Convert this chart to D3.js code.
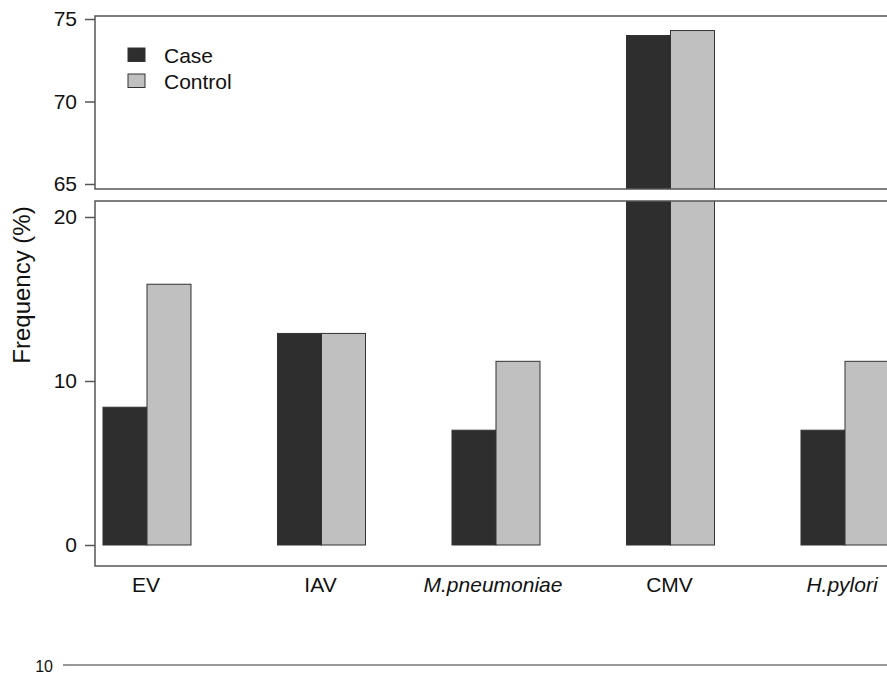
<!DOCTYPE html>
<html>
<head>
<meta charset="utf-8">
<script src="https://cdn.jsdelivr.net/npm/d3@7"></script>
<style>
  body { margin: 0; background: #fff; }
  svg { display: block; font-family: "Liberation Sans", Arial, sans-serif; }
</style>
</head>
<body>
<svg id="chart"></svg>
<script>
// data
const categories = ['EV', 'IAV', 'M.pneumoniae', 'CMV', 'H.pylori']
const italicCats = ['M.pneumoniae', 'H.pylori']
const series = ['Case', 'Control']
const caseValues = [8.4, 12.9, 7.0, 74.0, 7.0]
const controlValues = [15.9, 12.9, 11.2, 74.3, 11.2]
const topTicks = [65, 70, 75]
const bottomTicks = [0, 10, 20]

const width = 887, height = 674
const svg = d3.select('#chart').attr('width', width).attr('height', height)
const lineColor = '#555'
const colors = { Case: '#2e2e2e', Control: '#c0c0c0' }
const fontFam = '"Liberation Sans", Arial, sans-serif'

const left = 95
const topPanel = { y0: 16, y1: 189 }
const botPanel = { y0: 201, y1: 566 }

const yTop = d3.scaleLinear().domain([65, 75]).range([184, 19])
const yBot = d3.scaleLinear().domain([0, 20]).range([545, 217])

const step = 174.5
const pin = 0.4957, pout = 0.0458
const x = d3.scaleBand().domain(categories)
  .range([left, left + step * (categories.length - pin + 2 * pout)])
  .paddingInner(pin).paddingOuter(pout)
const xs = d3.scaleBand().domain(series).range([0, x.bandwidth()])

const rows = categories.map((c, i) => ({ cat: c, Case: caseValues[i], Control: controlValues[i] }))

// clip paths
const defs = svg.append('defs')
defs.append('clipPath').attr('id', 'clipTop').append('rect')
  .attr('x', left).attr('y', topPanel.y0).attr('width', width).attr('height', topPanel.y1 - topPanel.y0)
defs.append('clipPath').attr('id', 'clipBot').append('rect')
  .attr('x', left).attr('y', botPanel.y0).attr('width', width).attr('height', botPanel.y1 - botPanel.y0)

function drawBars(clipId, y, base) {
  const g = svg.append('g').attr('clip-path', `url(#${clipId})`)
  const groups = g.selectAll('.grp').data(rows).enter().append('g')
    .attr('class', 'grp')
    .attr('transform', d => `translate(${x(d.cat)},0)`)
  groups.selectAll('rect').data(d => series.map(s => ({ s, v: d[s] }))).enter().append('rect')
    .attr('x', d => xs(d.s))
    .attr('width', xs.bandwidth())
    .attr('y', d => Math.min(y(d.v), base))
    .attr('height', d => Math.max(0, base - y(d.v)))
    .attr('fill', d => colors[d.s])
    .attr('stroke', '#333')
    .attr('stroke-width', 1)
}

drawBars('clipTop', yTop, topPanel.y1 + 2)
drawBars('clipBot', yBot, yBot(0))

// panel frames
function frame(p) {
  svg.append('path')
    .attr('d', `M${width},${p.y0}H${left}V${p.y1}H${width}`)
    .attr('fill', 'none').attr('stroke', lineColor).attr('stroke-width', 1.5)
}
frame(topPanel)
frame(botPanel)

// y axes
function yAxis(y, ticks) {
  const ax = svg.append('g').attr('transform', `translate(${left},0)`)
    .call(d3.axisLeft(y).tickValues(ticks).tickSize(10).tickPadding(8).tickFormat(d3.format('d')))
  ax.select('.domain').remove()
  ax.selectAll('line').attr('stroke', lineColor).attr('stroke-width', 1.5)
  ax.selectAll('text').attr('font-size', 21).attr('fill', '#111').attr('font-family', fontFam)
}
yAxis(yTop, topTicks)
yAxis(yBot, bottomTicks)

// x labels (italic ones nudged left a bit, like the slanted originals)
svg.selectAll('.xlab').data(categories).enter().append('text')
  .attr('class', 'xlab')
  .attr('x', d => x(d) + x.bandwidth() / 2 - (italicCats.includes(d) ? 3 : 1))
  .attr('y', 592)
  .attr('text-anchor', 'middle')
  .attr('font-size', 21)
  .attr('font-style', d => italicCats.includes(d) ? 'italic' : 'normal')
  .attr('fill', '#111')
  .text(d => d)

// y title
svg.append('text')
  .attr('transform', 'translate(30,285) rotate(-90)')
  .attr('text-anchor', 'middle')
  .attr('font-size', 24)
  .attr('fill', '#111')
  .text('Frequency (%)')

// legend
const leg = svg.selectAll('.leg').data(series).enter().append('g')
  .attr('class', 'leg')
  .attr('transform', (d, i) => `translate(128,${48 + i * 26})`)
leg.append('rect').attr('width', 17).attr('height', 13.5)
  .attr('fill', d => colors[d]).attr('stroke', '#333').attr('stroke-width', 1)
leg.append('text').attr('x', 36).attr('y', 14.5)
  .attr('font-size', 21).attr('fill', '#111').text(d => d)

// stray bottom rule from the next figure
svg.append('line').attr('x1', 63).attr('x2', width).attr('y1', 665).attr('y2', 665)
  .attr('stroke', '#777').attr('stroke-width', 1.5)
svg.append('text').attr('x', 53).attr('y', 672).attr('text-anchor', 'end')
  .attr('font-size', 16).attr('fill', '#111').text('10')
</script>
</body>
</html>
